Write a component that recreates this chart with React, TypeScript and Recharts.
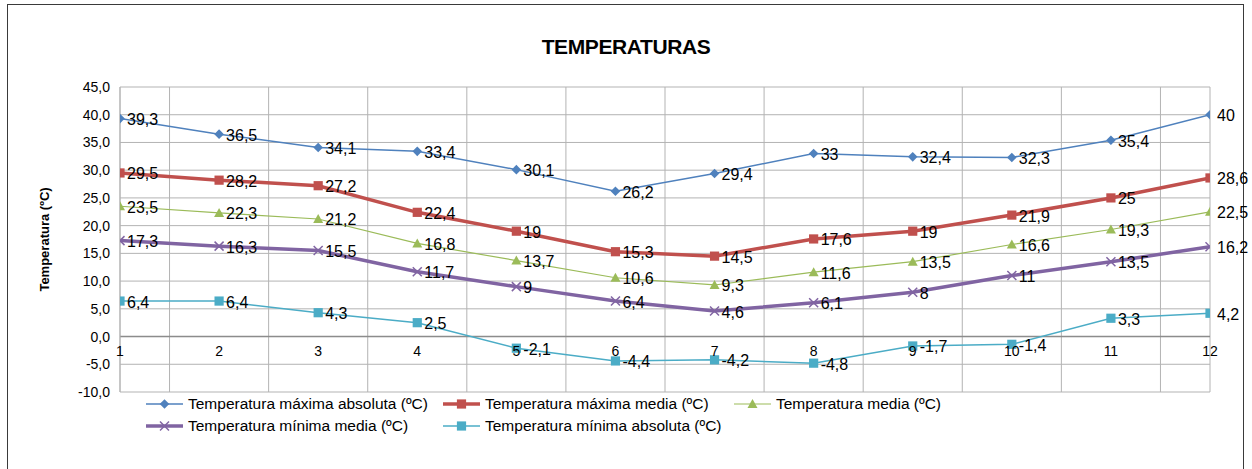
import React from 'react';
import {
  ComposedChart,
  Line,
  XAxis,
  YAxis,
  CartesianGrid,
  ReferenceLine,
  LabelList,
} from 'recharts';

const categories = [1, 2, 3, 4, 5, 6, 7, 8, 9, 10, 11, 12];
const maxAbsoluta = [39.3, 36.5, 34.1, 33.4, 30.1, 26.2, 29.4, 33, 32.4, 32.3, 35.4, 40];
const maxMedia = [29.5, 28.2, 27.2, 22.4, 19, 15.3, 14.5, 17.6, 19, 21.9, 25, 28.6];
const media = [23.5, 22.3, 21.2, 16.8, 13.7, 10.6, 9.3, 11.6, 13.5, 16.6, 19.3, 22.5];
const minMedia = [17.3, 16.3, 15.5, 11.7, 9, 6.4, 4.6, 6.1, 8, 11, 13.5, 16.2];
const minAbsoluta = [6.4, 6.4, 4.3, 2.5, -2.1, -4.4, -4.2, -4.8, -1.7, -1.4, 3.3, 4.2];

const yTicks = [-10, -5, 0, 5, 10, 15, 20, 25, 30, 35, 40, 45];
const yMinorTicks = [-7.5, -2.5, 2.5, 7.5, 12.5, 17.5, 22.5, 27.5, 32.5, 37.5, 42.5];
const xGridTicks = [1.5, 2.5, 3.5, 4.5, 5.5, 6.5, 7.5, 8.5, 9.5, 10.5, 11.5];

const seriesNames = {
  maxAbs: 'Temperatura máxima absoluta (ºC)',
  maxMed: 'Temperatura máxima media (ºC)',
  med: 'Temperatura media (ºC)',
  minMed: 'Temperatura mínima media (ºC)',
  minAbs: 'Temperatura mínima absoluta (ºC)',
};

const data = categories.map((c, i) => ({
  x: c,
  zero: 0,
  maxAbs: maxAbsoluta[i],
  maxMed: maxMedia[i],
  med: media[i],
  minMed: minMedia[i],
  minAbs: minAbsoluta[i],
}));

const FONT = '"Liberation Sans", Arial, sans-serif';

const COLORS = {
  maxAbs: '#4F81BD',
  maxMed: '#C0504D',
  med: '#9BBB59',
  minMed: '#8064A2',
  minAbs: '#4BACC6',
};

type Shape = 'diamond' | 'square' | 'triangle' | 'x';

function Marker({ cx, cy, shape, color }: { cx: number; cy: number; shape: Shape; color: string }) {
  if (cx == null || cy == null) return null;
  if (shape === 'diamond') {
    const r = 4.8;
    return <polygon points={`${cx},${cy - r} ${cx + r},${cy} ${cx},${cy + r} ${cx - r},${cy}`} fill={color} />;
  }
  if (shape === 'square') {
    const r = 4.6;
    return <rect x={cx - r} y={cy - r} width={2 * r} height={2 * r} fill={color} />;
  }
  if (shape === 'triangle') {
    const r = 5;
    return <polygon points={`${cx},${cy - r} ${cx + r},${cy + r * 0.8} ${cx - r},${cy + r * 0.8}`} fill={color} />;
  }
  const r = 4.5;
  return (
    <g stroke={color} strokeWidth={1.5}>
      <line x1={cx - r} y1={cy - r} x2={cx + r} y2={cy + r} />
      <line x1={cx - r} y1={cy + r} x2={cx + r} y2={cy - r} />
    </g>
  );
}

const fmt = (v: number) => String(v).replace('.', ',');

const renderValueLabel = (props: any) => {
  const { x, y, value } = props;
  if (x == null || y == null) return null;
  return (
    <text x={x + 7} y={y + 1} dominantBaseline="central" fontSize={16} fontFamily={FONT} fill="#000">
      {fmt(value)}
    </text>
  );
};

const renderCatLabel = (props: any) => {
  const { x, y, value } = props;
  if (x == null || y == null) return null;
  return (
    <text x={x} y={y + 14} textAnchor="middle" dominantBaseline="central" fontSize={14} fontFamily={FONT} fill="#000">
      {value}
    </text>
  );
};

const seriesDefs: { key: keyof typeof COLORS; shape: Shape; width: number }[] = [
  { key: 'maxAbs', shape: 'diamond', width: 1.5 },
  { key: 'maxMed', shape: 'square', width: 3.5 },
  { key: 'med', shape: 'triangle', width: 1.2 },
  { key: 'minMed', shape: 'x', width: 3.5 },
  { key: 'minAbs', shape: 'square', width: 1.5 },
];

function LegendItem({ def }: { def: (typeof seriesDefs)[number] }) {
  const color = COLORS[def.key];
  return (
    <div style={{ display: 'flex', alignItems: 'center', height: 22 }}>
      <svg width={42} height={14} style={{ flex: 'none' }}>
        <line x1={0} y1={7} x2={37} y2={7} stroke={color} strokeWidth={def.width} />
        <Marker cx={18.5} cy={7} shape={def.shape} color={color} />
      </svg>
      <span style={{ fontFamily: FONT, fontSize: 15.5, color: '#000', whiteSpace: 'nowrap' }}>
        {seriesNames[def.key]}
      </span>
    </div>
  );
}

export default function App() {
  return (
    <div style={{ position: 'absolute', left: 0, top: 0, width: 1252, height: 469, overflow: 'hidden', background: '#fff' }}>
      <div
        style={{
          position: 'absolute',
          left: 7,
          top: 4,
          width: 1235,
          height: 480,
          border: '1px solid #3a3a3a',
        }}
      />
      <div
        style={{
          position: 'absolute',
          left: 0,
          width: 1252,
          top: 33,
          textAlign: 'center',
          fontFamily: FONT,
          fontWeight: 'bold',
          fontSize: 21,
          letterSpacing: -0.4,
          lineHeight: '28px',
          color: '#000',
        }}
      >
        TEMPERATURAS
      </div>
      <div style={{ position: 'absolute', left: 0, top: 0 }}>
        <ComposedChart
          width={1252}
          height={469}
          data={data}
          margin={{ top: 87, right: 42, bottom: 77, left: 38 }}
        >
          <CartesianGrid stroke="#b3b3b3" strokeWidth={1} />
          <XAxis
            dataKey="x"
            type="number"
            domain={[1, 12]}
            ticks={xGridTicks}
            interval={0}
            allowDataOverflow
            axisLine={false}
            tickLine={false}
            tickFormatter={() => ''}
            height={0}
          />
          <YAxis
            domain={[-10, 45]}
            ticks={yTicks}
            interval={0}
            width={82}
            tickFormatter={(v: number) => v.toFixed(1).replace('.', ',')}
            axisLine={{ stroke: '#b3b3b3' }}
            tickLine={false}
            tickMargin={4}
            tick={{ fontSize: 14, fill: '#000', fontFamily: FONT }}
            label={{
              value: 'Temperatura (ºC)',
              angle: -90,
              position: 'insideLeft',
              offset: 6,
              style: { fontSize: 13, fontWeight: 'bold', fill: '#000', fontFamily: FONT, textAnchor: 'middle' },
            }}
          />
          <YAxis
            yAxisId="minor"
            domain={[-10, 45]}
            ticks={yMinorTicks}
            interval={0}
            mirror
            width={0}
            axisLine={false}
            tickLine={{ stroke: '#b3b3b3' }}
            tickSize={5}
            tickFormatter={() => ''}
          />
          <ReferenceLine y={0} stroke="#8c8c8c" strokeWidth={1.5} />
          {seriesDefs.map((def) => (
            <Line
              key={def.key}
              type="linear"
              dataKey={def.key}
              name={seriesNames[def.key]}
              stroke={COLORS[def.key]}
              strokeWidth={def.width}
              isAnimationActive={false}
              dot={(p: any) => <Marker key={`${def.key}-${p.index}`} cx={p.cx} cy={p.cy} shape={def.shape} color={COLORS[def.key]} />}
              activeDot={false}
            >
              <LabelList dataKey={def.key} content={renderValueLabel} />
            </Line>
          ))}
          <Line
            dataKey="zero"
            stroke="none"
            dot={false}
            activeDot={false}
            isAnimationActive={false}
            legendType="none"
          >
            <LabelList dataKey="x" content={renderCatLabel} />
          </Line>
        </ComposedChart>
      </div>
      <div
        style={{
          position: 'absolute',
          left: 146,
          top: 393,
          display: 'grid',
          gridTemplateColumns: '297px 291px auto',
          rowGap: 0,
        }}
      >
        {seriesDefs.map((def) => (
          <LegendItem key={def.key} def={def} />
        ))}
      </div>
    </div>
  );
}
